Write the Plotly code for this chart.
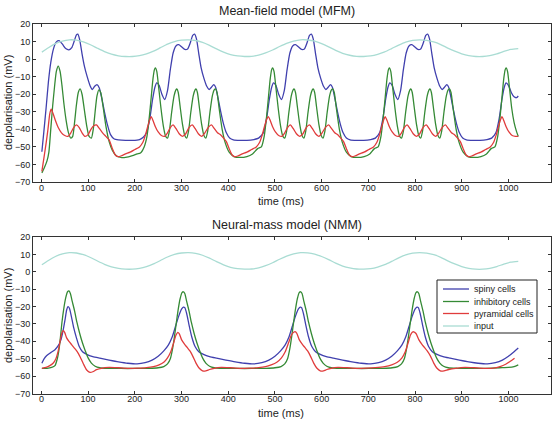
import plotly.graph_objects as go

# ---------------- Mean-field model (MFM) ----------------
mfm_spiny_t = [1, 5, 10, 15, 20, 26, 32, 38, 45, 52, 59, 65, 70, 75, 78, 82, 87, 92, 98, 104, 109, 114, 119, 124, 129, 135, 141, 148, 156, 165, 180, 195, 210, 218,
               225, 232, 238, 243, 247, 252, 258, 264, 270, 276, 282, 288, 294, 300, 307, 313, 319, 324, 328, 332, 337, 342, 348, 354, 359, 364, 369, 373, 378, 384, 390, 396, 403, 411, 425, 440, 455, 465,
               475, 482, 488, 493, 497, 502, 508, 514, 520, 526, 532, 538, 544, 550, 557, 563, 569, 574, 578, 582, 587, 592, 598, 604, 609, 614, 619, 623, 628, 634, 640, 646, 653, 661, 675, 690, 705, 715,
               724, 731, 737, 742, 746, 751, 757, 763, 769, 775, 781, 787, 793, 799, 806, 812, 818, 823, 827, 831, 836, 841, 847, 853, 858, 863, 868, 872, 877, 883, 889, 895, 902, 910, 924, 939, 954, 964,
               973, 980, 986, 991, 995, 1000, 1006, 1012, 1017, 1021]
mfm_spiny_v = [-52.8, -42, -28, -13, -2, 6, 9.8, 10.5, 8.5, 6, 5.3, 6.5, 10, 13.8, 14.2, 11, 3, -4, -10, -15, -17.3, -15.5, -14.5, -16.5, -22, -30, -37, -43, -45.5, -46, -46.3, -46.3, -45.8, -44.5,
               -42, -34, -23, -16, -13.5, -15, -20, -23, -18, -6, 3.5, 7.5, 8.2, 7, 5.5, 5.8, 9.5, 13.5, 14.2, 11.5, 3, -5, -11, -15.5, -17.3, -16, -14.5, -16, -22, -30, -37, -42, -45, -46, -46.3, -46.3, -45.8, -45,
               -42, -34, -23, -16, -13.5, -15, -20, -23, -18, -6, 3.5, 7.5, 8.2, 7, 5.5, 5.8, 9.5, 13.5, 14.2, 11.5, 3, -5, -11, -15.5, -17.3, -16, -14.5, -16, -22, -30, -37, -42, -45, -46, -46.3, -46.3, -45.8, -45,
               -42, -34, -23, -16, -13.5, -15, -20, -23, -18, -6, 3.5, 7.5, 8.2, 7, 5.5, 5.8, 9.5, 13.5, 14.2, 11.5, 3, -5, -11, -15.5, -17.3, -16, -14.5, -16, -22, -30, -37, -42, -45, -46, -46.3, -46.3, -45.8, -45,
               -42, -34, -23, -16, -13.5, -15, -19, -21.5, -22, -21]

mfm_inhib_t = [1, 6, 12, 16, 20, 24, 28, 32, 36, 40, 44, 48, 53, 58, 63, 67, 71, 75, 79, 83, 87, 92, 97, 102, 107, 111, 115, 119, 123, 127, 132, 138, 145, 152, 160, 170, 180, 195, 205,
               212, 220, 226, 231, 235, 239, 242, 244, 247, 251, 256, 261, 266, 270, 274, 279, 284, 288, 290, 293, 297, 302, 307, 311, 315, 320, 325, 329, 331, 334, 338, 343, 348, 352, 356, 361, 366, 370, 373, 376, 381, 387, 394, 402, 412, 425, 440, 452,
               463, 471, 477, 482, 486, 490, 493, 495, 498, 502, 507, 512, 517, 521, 525, 530, 535, 539, 541, 544, 548, 553, 558, 562, 566, 571, 576, 580, 582, 585, 589, 594, 599, 603, 607, 612, 617, 621, 624, 627, 632, 638, 645, 653, 663, 676, 691, 703,
               713, 721, 727, 732, 736, 740, 743, 745, 748, 752, 757, 762, 767, 771, 775, 780, 785, 789, 791, 794, 798, 803, 808, 812, 816, 821, 826, 830, 832, 835, 839, 844, 849, 853, 857, 862, 867, 871, 874, 877, 882, 888, 895, 903, 913, 926, 941, 953,
               963, 971, 977, 982, 986, 990, 993, 995, 998, 1002, 1007, 1012, 1017, 1021]
mfm_inhib_v = [-64.8, -62, -58, -53, -40, -27, -16, -7, -4, -7, -15, -25, -35, -42, -45, -44, -36, -26, -19, -17, -20, -29, -38, -44, -45, -40, -30, -21, -17.5, -19, -27, -38, -47, -52, -55, -56, -56, -55, -54,
               -53.5, -50, -44, -33, -22, -11, -6, -5, -7, -16, -28, -38, -44, -45, -41, -30, -21, -17.5, -17, -19, -27, -37, -43.5, -45, -41, -30, -21, -17.5, -17, -19, -27, -37, -43.5, -45, -41, -30, -21, -17.5, -17, -19, -29, -40, -48, -53, -55.5, -56, -55.5, -54,
               -51, -50, -44, -33, -22, -11, -6, -5, -7, -16, -28, -38, -44, -45, -41, -30, -21, -17.5, -17, -19, -27, -37, -43.5, -45, -41, -30, -21, -17.5, -17, -19, -27, -37, -43.5, -45, -41, -30, -21, -17.5, -17, -19, -29, -40, -48, -53, -55.5, -56, -55.5, -54,
               -51, -50, -44, -33, -22, -11, -6, -5, -7, -16, -28, -38, -44, -45, -41, -30, -21, -17.5, -17, -19, -27, -37, -43.5, -45, -41, -30, -21, -17.5, -17, -19, -27, -37, -43.5, -45, -41, -30, -21, -17.5, -17, -19, -29, -40, -48, -53, -55.5, -56, -55.5, -54,
               -51, -50, -44, -33, -22, -11, -6, -5, -7, -16, -28, -36, -41, -44]

mfm_pyr_t = [1, 5, 10, 14, 18, 21, 25, 30, 36, 43, 50, 57, 63, 69, 75, 81, 87, 93, 100, 106, 112, 118, 124, 131, 138, 145, 152, 158, 164, 172, 180, 190, 200, 210, 217, 223, 228, 232,
             235, 239, 244, 250, 257, 264, 270, 276, 282, 288, 295, 302, 309, 316, 323, 329, 336, 343, 350, 357, 364, 370, 377, 383, 390, 396, 402, 408, 414, 422, 430, 440, 450, 460, 467, 473, 478, 482,
             486, 490, 495, 501, 508, 515, 521, 527, 533, 539, 546, 553, 560, 567, 574, 580, 587, 594, 601, 608, 615, 621, 628, 634, 641, 647, 653, 659, 665, 673, 681, 691, 701, 711, 718, 724, 729, 733,
             736, 740, 745, 751, 758, 765, 771, 777, 783, 789, 796, 803, 810, 817, 824, 830, 837, 844, 851, 858, 865, 871, 878, 884, 891, 897, 903, 909, 915, 923, 931, 941, 951, 961, 968, 974, 979, 983,
             986, 990, 995, 1001, 1008, 1015, 1021]
mfm_pyr_v = [-64, -57, -48, -40, -31, -28.5, -31, -35, -39, -42, -43.5, -44, -42, -39, -37.5, -39, -42, -44, -43, -40, -38, -37.5, -39.5, -42, -44, -46, -51, -54.5, -55.6, -55, -54, -53, -51.5, -50, -47.5, -43, -38, -34.5,
             -32.8, -35, -38.5, -41.5, -43.5, -44, -42, -39, -37.5, -39.5, -42.5, -44, -42.5, -39, -37.5, -39.5, -42.5, -44, -42, -39, -37.5, -39.5, -42, -43, -45, -47, -51, -54.5, -55.6, -55, -54, -53, -51.5, -50, -47.5, -43, -38, -34.5,
             -32.8, -35, -38.5, -41.5, -43.5, -44, -42, -39, -37.5, -39.5, -42.5, -44, -42.5, -39, -37.5, -39.5, -42.5, -44, -42, -39, -37.5, -39.5, -42, -43, -45, -47, -51, -54.5, -55.6, -55, -54, -53, -51.5, -50, -47.5, -43, -38, -34.5,
             -32.8, -35, -38.5, -41.5, -43.5, -44, -42, -39, -37.5, -39.5, -42.5, -44, -42.5, -39, -37.5, -39.5, -42.5, -44, -42, -39, -37.5, -39.5, -42, -43, -45, -47, -51, -54.5, -55.6, -55, -54, -53, -51.5, -50, -47.5, -43, -38, -34.5,
             -32.8, -35, -38.5, -41.5, -43.5, -44, -44]

input_t = [1, 15, 30, 45, 60, 75, 90, 105, 120, 135, 150, 165, 180, 195, 210, 225, 240, 255, 270, 285, 300, 315, 330, 345, 360, 375, 390, 405, 420, 435, 450, 465, 480, 495, 510,
           525, 540, 555, 570, 585, 600, 615, 630, 645, 660, 675, 690, 705, 720, 735, 750, 765, 780, 795, 810, 825, 840, 855, 870, 885, 900, 915, 930, 945, 960, 975, 990, 1005, 1021]
input_v = [4, 6.5, 8.8, 10.3, 11, 10.8, 9.8, 8.2, 6.2, 4.3, 2.8, 1.9, 1.5, 1.5, 2, 3, 4.5, 6.5, 8.5, 10, 10.8, 11, 10.6, 9.5, 7.8, 5.8, 4, 2.6, 1.8, 1.5, 1.6, 2.3, 3.5, 5.2, 7.2,
           9, 10.3, 11, 10.9, 10.2, 8.8, 7, 5, 3.3, 2.2, 1.6, 1.5, 1.8, 2.7, 4.1, 6, 8, 9.7, 10.7, 11, 10.7, 9.8, 8.3, 6.3, 4.5, 3, 2, 1.5, 1.5, 2, 3, 4.4, 5.5, 6]

# ---------------- Neural-mass model (NMM) ----------------
nmm_spiny_t = [1, 6, 11, 20, 29, 36, 42, 47, 51, 54, 57, 60, 64, 69, 75, 81, 88, 97, 110, 125, 145, 165, 185, 205, 222, 237, 250, 262, 272, 280, 287, 294, 300, 304, 307, 311, 316, 322, 329, 337, 347, 360, 375, 395, 415, 435, 455, 472, 487, 500,
               512, 522, 530, 537, 544, 550, 554, 557, 561, 566, 572, 579, 587, 597, 610, 625, 645, 665, 685, 705, 722, 737, 750, 762, 772, 780, 787, 794, 800, 804, 807, 811, 816, 822, 829, 837, 847, 860, 875, 895, 915, 935, 955, 972, 987, 1000, 1012, 1021]
nmm_spiny_v = [-52.6, -50, -48.3, -46.5, -44.8, -42.5, -39, -33, -27, -22, -20, -21, -25.5, -32, -38, -43, -46, -47.5, -48.8, -49.7, -50.8, -51.8, -52.6, -53, -52.3, -50.8, -48.6, -45.5, -42, -37.5, -31.5, -25.5, -21.5, -20.3, -20.6, -24, -30.5, -37.5, -43, -46, -47.5, -48.8, -49.7, -50.8, -51.8, -52.6, -53, -52.3, -50.8, -48.6,
               -45.5, -42, -37.5, -31.5, -25.5, -21.5, -20.3, -20.6, -24, -30.5, -37.5, -43, -46, -47.5, -48.8, -49.7, -50.8, -51.8, -52.6, -53, -52.3, -50.8, -48.6, -45.5, -42, -37.5, -31.5, -25.5, -21.5, -20.3, -20.6, -24, -30.5, -37.5, -43, -46, -47.5, -48.8, -49.7, -50.8, -51.8, -52.6, -53, -52.3, -50.8, -48.6, -46, -43.9]

nmm_inhib_t = [1, 12, 22, 29, 34, 38, 41, 44, 48, 52, 56, 59, 62, 66, 71, 76, 82, 88, 94, 100, 107, 115, 125, 140, 170, 200, 230, 250, 262, 270, 276, 281, 285, 289, 293, 297, 301, 304, 307, 311, 316, 321, 327, 333, 339, 345, 352, 360, 370, 390,
               420, 450, 480, 500, 513, 521, 527, 532, 536, 540, 544, 548, 552, 555, 558, 562, 567, 572, 578, 584, 590, 596, 603, 611, 621, 641, 671, 701, 731, 751, 763, 771, 777, 782, 786, 790, 794, 798, 802, 805, 808, 812, 817, 822, 828, 834, 840, 846, 853, 861, 871, 891, 921, 951, 981, 1000, 1012, 1021]
nmm_inhib_v = [-55.5, -55.5, -55, -54, -50, -44, -37, -29, -21, -15, -11.5, -11, -12.5, -17, -22.5, -29, -35.5, -41, -45.5, -49.5, -52.5, -54.3, -55.2, -55.5, -55.6, -55.6, -55.5, -55.2, -54.5, -53, -50, -44, -37, -29, -21.5, -15.5, -12, -11.5, -12.5, -17, -22.5, -29, -35.5, -41, -45.5, -49.5, -52.5, -54.3, -55.2, -55.5,
               -55.6, -55.6, -55.5, -55.2, -54.5, -53, -50, -44, -37, -29, -21.5, -15.5, -12, -11.5, -12.5, -17, -22.5, -29, -35.5, -41, -45.5, -49.5, -52.5, -54.3, -55.2, -55.5, -55.6, -55.6, -55.5, -55.2, -54.5, -53, -50, -44, -37, -29, -21.5, -15.5, -12, -11.5, -12.5, -17, -22.5, -29, -35.5, -41, -45.5, -49.5, -52.5, -54.3, -55.2, -55.5, -55.6, -55.5, -55.2, -55, -54.5, -53.5]

nmm_pyr_t = [1, 10, 18, 25, 31, 36, 40, 44, 47, 50, 54, 59, 65, 71, 77, 83, 90, 97, 104, 110, 118, 128, 145, 165, 185, 205, 225, 240, 252, 262, 270, 277, 283, 288, 292, 295, 300, 306, 312, 318, 324, 331, 338, 345, 352, 360, 370, 385, 405, 425, 445, 465, 480,
             492, 504, 514, 522, 529, 535, 540, 544, 547, 552, 558, 564, 570, 576, 583, 590, 597, 604, 611, 620, 635, 655, 675, 695, 715, 735, 750, 762, 772, 779, 785, 790, 794, 797, 802, 808, 814, 820, 826, 833, 840, 847, 854, 862, 872, 887, 907, 927, 947, 967, 982, 994, 1004, 1013, 1021]
nmm_pyr_v = [-55.5, -55, -54, -52.6, -50, -45.5, -40, -35, -33.8, -35, -38, -40, -42, -44, -46, -49, -53, -56.5, -57.8, -57.5, -56.3, -55.5, -55, -55.2, -55.5, -55.4, -55.1, -54.5, -53.5, -52, -49.5, -46, -41, -36.5, -34.8, -35.5, -39, -41.5, -43.5, -45.5, -48.5, -52.5, -55.5, -57, -57, -56.2, -55.5, -55, -55.2, -55.5, -55.4, -55.1, -54.5,
             -53.5, -52, -49.5, -46, -41, -36.5, -34.8, -34.5, -35.5, -39, -41.5, -43.5, -45.5, -48.5, -52.5, -55.5, -57, -57, -56.2, -55.5, -55, -55.2, -55.5, -55.4, -55.1, -54.5, -53.5, -52, -49.5, -46, -41, -36.5, -34.8, -34.5, -35.5, -39, -41.5, -43.5, -45.5, -48.5, -52.5, -55.5, -57, -57, -56.2, -55.5, -55, -55.2, -55.5, -55.4, -54.5, -53.2, -51.5, -49.7]

x_ticks = [0, 100, 200, 300, 400, 500, 600, 700, 800, 900, 1000]
y_ticks = [-70, -60, -50, -40, -30, -20, -10, 0, 10, 20]
titles = ["Mean-field model (MFM)", "Neural-mass model (NMM)"]
series_names = ["spiny cells", "inhibitory cells", "pyramidal cells", "input"]
colors = ["#4040ae", "#358a35", "#e03c3c", "#a9dcd3"]

W, H = 553, 423
fig = go.Figure()

def add(x, y, i, xa, ya):
    fig.add_trace(go.Scatter(x=x, y=y, mode="lines", name=series_names[i],
                             line=dict(color=colors[i], width=1.3, shape="spline", smoothing=0.6),
                             xaxis=xa, yaxis=ya, showlegend=False, hoverinfo="skip"))

add(mfm_spiny_t, mfm_spiny_v, 0, "x", "y")
add(mfm_inhib_t, mfm_inhib_v, 1, "x", "y")
add(mfm_pyr_t, mfm_pyr_v, 2, "x", "y")
add(input_t, input_v, 3, "x", "y")
add(nmm_spiny_t, nmm_spiny_v, 0, "x2", "y2")
add(nmm_inhib_t, nmm_inhib_v, 1, "x2", "y2")
add(nmm_pyr_t, nmm_pyr_v, 2, "x2", "y2")
add(input_t, input_v, 3, "x2", "y2")

def py(p):
    return 1 - p / H

def px(p):
    return p / W

xdom = [px(33), px(550.5)]
font_fam = "Liberation Sans, Arial"
axis_common = dict(showline=True, linecolor="#333", linewidth=1, mirror="ticks", ticks="inside",
                   ticklen=3, tickcolor="#333", showgrid=False, zeroline=False, automargin=False,
                   tickfont=dict(family=font_fam, size=9, color="#222"))

fig.update_layout(
    width=W, height=H, margin=dict(l=0, r=0, t=0, b=0, autoexpand=False),
    paper_bgcolor="white", plot_bgcolor="white",
    xaxis=dict(domain=xdom, anchor="y", range=[-18, 1090], tickvals=x_ticks, ticklabelstandoff=-3, **axis_common),
    yaxis=dict(domain=[py(182), py(24)], anchor="x", range=[-70, 20], tickvals=y_ticks, **axis_common),
    xaxis2=dict(domain=xdom, anchor="y2", range=[-18, 1090], tickvals=x_ticks, ticklabelstandoff=-3, **axis_common),
    yaxis2=dict(domain=[py(393.5), py(237)], anchor="x2", range=[-70, 20], tickvals=y_ticks, **axis_common),
    showlegend=False,
)

ann_font = dict(family=font_fam, color="#222")
anns = [
    dict(text=titles[0], x=px(287), y=py(11), font=dict(size=12.5, **ann_font)),
    dict(text=titles[1], x=px(287), y=py(225), font=dict(size=12.5, **ann_font)),
    dict(text="time (ms)", x=px(281), y=py(200.5), font=dict(size=11, **ann_font)),
    dict(text="time (ms)", x=px(281), y=py(413), font=dict(size=11, **ann_font)),
    dict(text="depolarisation (mV)", x=px(8), y=py(103), textangle=-90, font=dict(size=11, **ann_font)),
    dict(text="depolarisation (mV)", x=px(8), y=py(316), textangle=-90, font=dict(size=11, **ann_font)),
]
for a in anns:
    fig.add_annotation(xref="paper", yref="paper", showarrow=False, xanchor="center", yanchor="middle", **a)

# legend box (bottom panel), drawn in paper coordinates
fig.add_shape(type="rect", xref="paper", yref="paper", x0=px(437), x1=px(537), y0=py(333), y1=py(280),
              line=dict(color="#222", width=1), fillcolor="white", layer="above")
legend_rows = [289, 301.5, 313.5, 326]
for i, name in enumerate(series_names):
    yy = py(legend_rows[i])
    fig.add_shape(type="line", xref="paper", yref="paper", x0=px(443), x1=px(469), y0=yy, y1=yy,
                  line=dict(color=colors[i], width=1.3), layer="above")
    fig.add_annotation(xref="paper", yref="paper", x=px(472), y=yy, text=name, showarrow=False,
                       xanchor="left", yanchor="middle", font=dict(size=9, **ann_font))

fig.write_html("out.html", config={"displayModeBar": False},
               post_script="document.body.style.margin='0';document.body.style.overflow='hidden';")
